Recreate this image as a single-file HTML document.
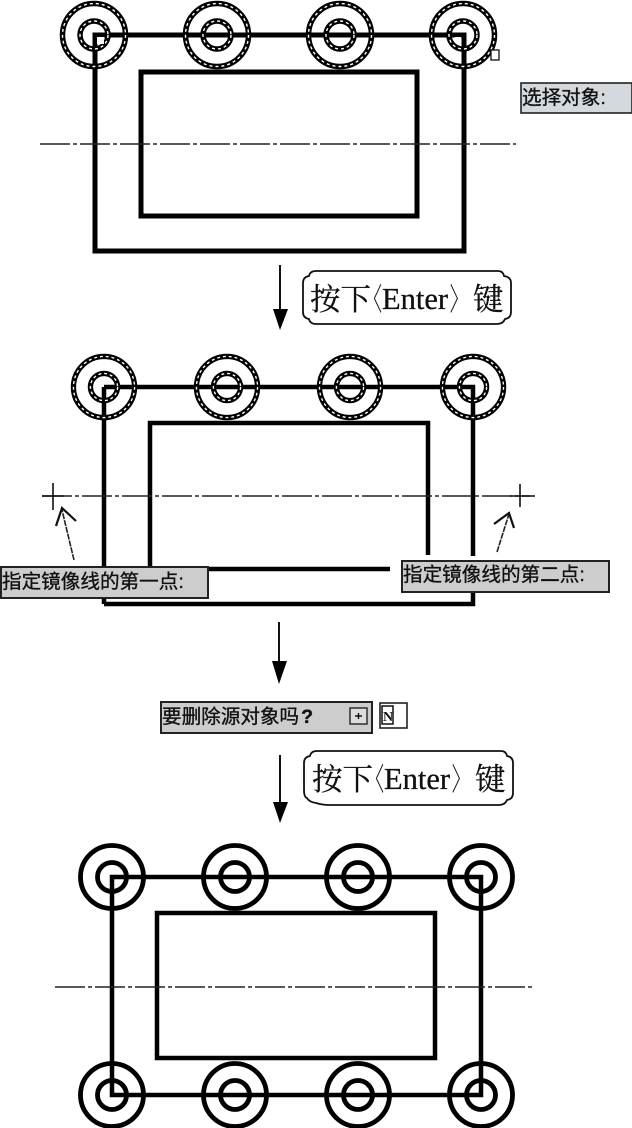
<!DOCTYPE html>
<html>
<head>
<meta charset="utf-8">
<style>
html,body{margin:0;padding:0;background:#fff;}
svg{display:block;}
text{font-family:"Liberation Serif","Noto Serif CJK SC",serif;fill:#111;}
.s{font-family:"Liberation Sans","Noto Sans CJK SC",sans-serif;font-size:19.6px;stroke:#111;stroke-width:.35;}
.e{font-size:30.5px;stroke:#111;stroke-width:.3;}
.box{fill:#cdcdcd;stroke:#222;stroke-width:2;}
.cl{stroke:#222;stroke-width:1.6;fill:none;stroke-dasharray:30 3 4 3;}
.t{fill:none;stroke:#000;stroke-width:5;}
.b{fill:none;stroke:#000;stroke-width:4.5;}
.w{fill:none;stroke:#fff;stroke-width:1.4;stroke-dasharray:3 3;}
</style>
</head>
<body>
<svg width="632" height="1128" viewBox="0 0 632 1128" xmlns="http://www.w3.org/2000/svg">
<defs>
<g id="dash">
<circle r="31.500" fill="none" stroke="#000" stroke-width="5.500"/>
<circle r="31.500" class="w"/>
<circle r="14" fill="none" stroke="#000" stroke-width="5.500"/>
<circle r="14" class="w"/>
</g>
<g id="solid">
<circle r="31.500" fill="none" stroke="#000" stroke-width="4.800"/>
<circle r="14.500" fill="none" stroke="#000" stroke-width="4.800"/>
</g>
</defs>

<!-- top drawing -->
<path class="t" d="M95 35H464V251H95Z"/>
<rect x="141" y="72" width="276" height="144" class="t"/>
<use href="#dash" x="94" y="35"/>
<use href="#dash" x="217" y="35"/>
<use href="#dash" x="340" y="35"/>
<use href="#dash" x="463" y="35"/>
<rect x="97" y="37" width="7" height="7" fill="#fff"/>
<rect x="455" y="37" width="6" height="6" fill="#fff"/>
<path class="cl" d="M40 144H516"/>
<rect x="491" y="50" width="8" height="10" fill="#fff" stroke="#111" stroke-width="1.300"/>
<rect x="521" y="83" width="111" height="30" fill="#d3d9dc" stroke="#222" stroke-width="1.600"/>
<text class="s" x="522" y="104">选择对象:</text>

<!-- arrow 1 -->
<path d="M280 265V315" stroke="#111" stroke-width="2"/>
<path d="M273 309H288L280 330Z" fill="#000"/>
<path d="M316 271H498Q503 271 504 276Q511 277 511 283V312Q511 318 505 319Q503 324 497 324H316Q310 324 309 319Q303 318 303 312V283Q303 277 309 276Q310 271 316 271Z" fill="#fff" stroke="#111" stroke-width="1.800"/>
<text class="e" x="310" y="310">按下</text>
<text class="e" transform="translate(365 310) scale(.55 1)">〈</text>
<text class="e" x="382" y="309">Enter</text>
<text class="e" transform="translate(450 310) scale(.55 1)">〉</text>
<text class="e" x="473" y="310">键</text>

<!-- middle drawing -->
<path class="b" d="M104 387H473V556M104 387V568M104 604H473V593M104 604V598"/>
<path class="b" d="M150 568V423H428V555M205 569H390"/>
<use href="#dash" transform="translate(104 387) scale(.97)"/>
<use href="#dash" transform="translate(227 387) scale(.97)"/>
<use href="#dash" transform="translate(350 387) scale(.97)"/>
<use href="#dash" transform="translate(473 387) scale(.97)"/>
<path class="cl" d="M42 496H530"/>
<path d="M53 483V510M42 496H64M520 484V507M510 496H535" stroke="#111" stroke-width="1.600" fill="none"/>
<path d="M74 560L62 510" stroke="#222" stroke-width="1.600" stroke-dasharray="6 1"/>
<path d="M56 526L62 508L76 521" stroke="#111" stroke-width="2.200" fill="none"/>
<path d="M497 552L509 514" stroke="#222" stroke-width="1.600" stroke-dasharray="6 1"/>
<path d="M494 524L509 513L514 528" stroke="#111" stroke-width="2.200" fill="none"/>
<rect x="1" y="567" width="207" height="31" class="box"/>
<text class="s" x="2" y="588">指定镜像线的第一点:</text>
<rect x="402" y="561" width="207" height="31" class="box"/>
<text class="s" x="403" y="581">指定镜像线的第二点:</text>

<!-- arrow 2 -->
<path d="M279 622V665" stroke="#111" stroke-width="2"/>
<path d="M272 661H287L279 684Z" fill="#000"/>

<!-- prompt -->
<rect x="161" y="702" width="211" height="31" class="box"/>
<text class="s" x="162" y="723">要删除源对象吗<tspan dx="2" font-weight="bold">?</tspan></text>
<rect x="350" y="708" width="17" height="16" fill="#ddd" stroke="#222" stroke-width="1.400"/>
<path d="M355 716H362M358.500 713V719" stroke="#111" stroke-width="1.400"/>
<rect x="380" y="703" width="27" height="25" fill="#fff" stroke="#222" stroke-width="1.600"/>
<rect x="382" y="706" width="11" height="18" fill="#fff" stroke="#111" stroke-width="1.500"/>
<text x="383" y="721" font-size="14" font-weight="bold">N</text>

<!-- arrow 3 -->
<path d="M280 755V805" stroke="#111" stroke-width="2"/>
<path d="M273 802H288L280 823Z" fill="#000"/>
<path d="M317 751H501Q506 751 507 756Q513 757 513 763V793Q513 799 507 800Q505 805 499 805H330Q322 805 316 803Q309 802 307 798Q304 797 304 790V763Q304 757 310 756Q311 751 317 751Z" fill="#fff" stroke="#111" stroke-width="1.800"/>
<text class="e" x="312" y="790">按下</text>
<text class="e" transform="translate(367 790) scale(.55 1)">〈</text>
<text class="e" x="384" y="789">Enter</text>
<text class="e" transform="translate(452 790) scale(.55 1)">〉</text>
<text class="e" x="475" y="790">键</text>

<!-- bottom drawing -->
<path class="b" d="M112 877H481V1095H112Z"/>
<rect x="157" y="913" width="278" height="145" class="b"/>
<use href="#solid" x="112" y="877"/>
<use href="#solid" x="235" y="877"/>
<use href="#solid" x="358" y="877"/>
<use href="#solid" x="481" y="877"/>
<use href="#solid" x="112" y="1095"/>
<use href="#solid" x="235" y="1095"/>
<use href="#solid" x="358" y="1095"/>
<use href="#solid" x="481" y="1095"/>
<path class="cl" d="M55 987H532"/>
</svg>
</body>
</html>
